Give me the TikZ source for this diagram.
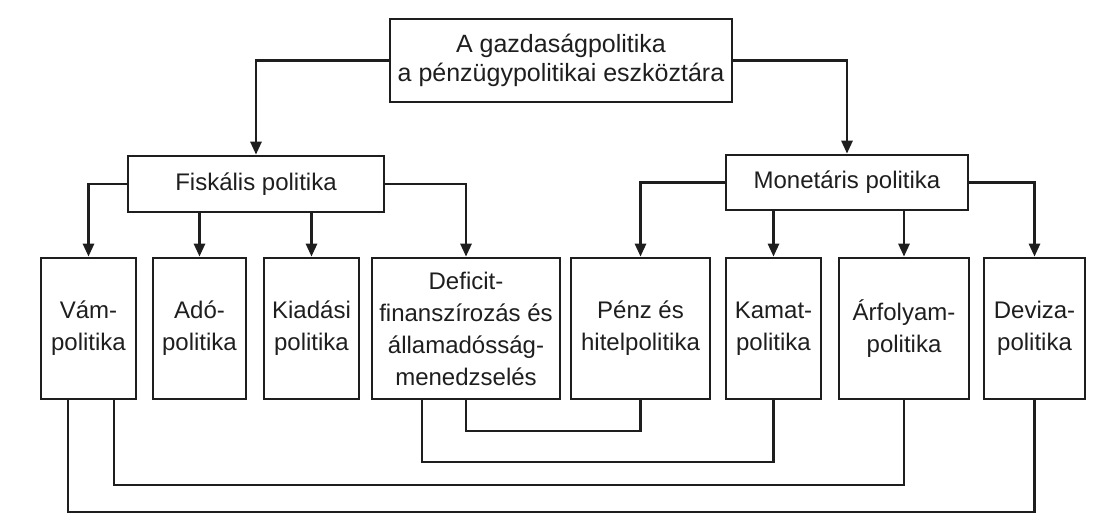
\documentclass[tikz,border=0pt]{standalone}
\usepackage{fontspec}
\setmainfont{Liberation Sans}
\usetikzlibrary{arrows.meta}
\definecolor{ink}{HTML}{1E1E1E}
\begin{document}
\begin{tikzpicture}[x=1pt,y=-1pt,
  box/.style={draw=ink, line width=2.7pt, inner sep=0pt, align=center, text=ink,
              font=\fontsize{24}{32}\selectfont},
  leaf/.style={box, minimum height=141pt},
  link/.style={draw=ink, line width=2.7pt},
  arr/.style={link, -{Triangle[length=13pt,width=11pt]}},
]
\useasboundingbox (0,0) rectangle (1108,524);

% root
\node[box, minimum width=342pt, minimum height=83pt,
      font=\fontsize{25}{29}\selectfont] (top) at (561,60.5)
  {A gazdaságpolitika\\a pénzügypolitikai eszköztára};

% second level
\node[box, minimum width=256pt, minimum height=56pt] (fis) at (256,184) {Fiskális politika};
\node[box, minimum width=242pt, minimum height=55pt] (mon) at (847,182.5) {Monetáris politika};

% instruments
\node[leaf, minimum width=95pt]  (vam)  at (88.5,328.5)  {Vám-\\politika};
\node[leaf, minimum width=93pt]  (ado)  at (199.5,328.5) {Adó-\\politika};
\node[leaf, minimum width=95pt]  (kia)  at (311.5,328.5) {Kiadási\\politika};
\node[leaf, minimum width=188pt] (def)  at (466,328.5)   {Deficit-\\finanszírozás és\\államadósság-\\menedzselés};
\node[leaf, minimum width=139pt] (penz) at (640.5,328.5) {Pénz és\\hitelpolitika};
\node[leaf, minimum width=95pt]  (kam)  at (773.5,328.5) {Kamat-\\politika};
\node[leaf, minimum width=130pt] (arf)  at (904,328.5)   {Árfolyam-\\politika};
\node[leaf, minimum width=101pt] (dev)  at (1034.5,328.5){Deviza-\\politika};

% root to second level
\draw[arr] (top.west) -| (fis.north);
\draw[arr] (top.east) -| (mon.north);

% fiscal branch
\draw[arr] (fis.west) -| (vam.north);
\draw[arr] (fis.south -| ado.north) -- (ado.north);
\draw[arr] (fis.south -| kia.north) -- (kia.north);
\draw[arr] (fis.east) -| (def.north);

% monetary branch
\draw[arr] (mon.west) -| (penz.north);
\draw[arr] (mon.south -| kam.north) -- (kam.north);
\draw[arr] (mon.south -| arf.north) -- (arf.north);
\draw[arr] (mon.east) -| (dev.north);

% interconnection levels
\coordinate (l1) at (0,431);
\coordinate (l2) at (0,462);
\coordinate (l3) at (0,485);
\coordinate (l4) at (0,512);

\draw[link] (def.south) |- (l1 -| penz.south) -- (penz.south);
\draw[link] ([xshift=-44pt]def.south) |- (l2 -| kam.south) -- (kam.south);
\draw[link] ([xshift=25.5pt]vam.south) |- (l3 -| arf.south) -- (arf.south);
\draw[link] ([xshift=-20.5pt]vam.south) |- (l4 -| dev.south) -- (dev.south);
\end{tikzpicture}
\end{document}
